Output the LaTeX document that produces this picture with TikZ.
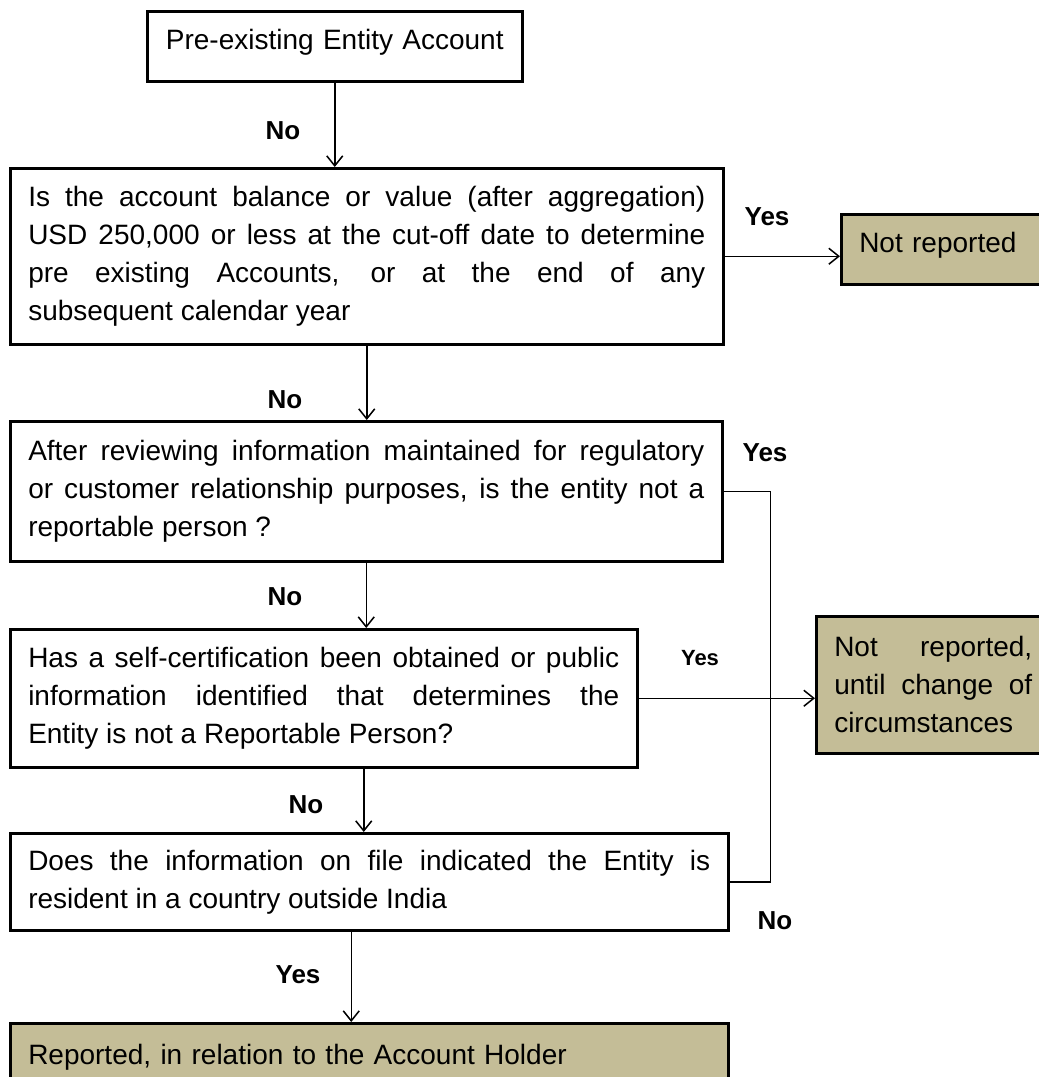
\documentclass[tikz,border=0pt]{standalone}
\usepackage{fontspec}
\setmainfont{Liberation Sans}
\usetikzlibrary{arrows.meta}
\definecolor{khaki}{RGB}{196,189,151}
\tikzset{
  qbox/.style={draw, line width=2.5pt, anchor=north west, inner xsep=18pt, inner ysep=0pt, align=justify, font=\fontsize{28}{38}\selectfont},
  endbox/.style={qbox, fill=khaki, align=left},
  lbl/.style={font=\bfseries\fontsize{26}{30}\selectfont},
  arr/.style={line width=1.5pt, -{Straight Barb[length=10pt,width=16pt]}}
}
\begin{document}
\begin{tikzpicture}[x=1pt,y=-1pt]
    \useasboundingbox (0,0) rectangle (1039,1077);

    % question boxes
    \node[qbox, align=center, text width=339pt, text height=38pt, text depth=32pt] (start) at (146,10) {Pre-existing Entity Account};
    \node[qbox, text width=677pt, minimum height=176pt] (bal) at (9,167) {Is the account balance or value (after aggregation)\linebreak USD 250,000 or less at the cut-off date to determine\linebreak pre existing Accounts, or at the end of any\linebreak subsequent calendar year};
    \node[qbox, text width=676pt, minimum height=140pt] (review) at (9,420) {After reviewing information maintained for regulatory\linebreak or customer relationship purposes, is the entity not a\linebreak reportable person ?};
    \node[qbox, text width=591pt, minimum height=138pt] (selfcert) at (9,628) {Has a self-certification been obtained or public\linebreak information identified that determines the\linebreak Entity is not a Reportable Person?};
    \node[qbox, text width=682pt, minimum height=97pt] (resident) at (9,832) {Does the information on file indicated the Entity is\linebreak resident in a country outside India};

    % outcomes
    \node[endbox, text width=200pt, text height=38pt, text depth=32pt] (notrep) at (840,213) {Not reported};
    \node[endbox, align=justify, text width=198pt, minimum height=137pt] (notrepcirc) at (815,615) {Not reported,\linebreak until change of\linebreak circumstances};
    \node[endbox, text width=682pt, text height=41pt, text depth=30pt] (reported) at (9,1022) {Reported, in relation to the Account Holder};

    % labels
    \node[lbl] (no1) at (283,131) {No};
    \node[lbl] (yes1) at (767,217) {Yes};
    \node[lbl] (no2) at (285,400) {No};
    \node[lbl] (yes2) at (765,453) {Yes};
    \node[lbl] (no3) at (285,597) {No};
    \node[lbl, font=\bfseries\fontsize{22}{26}\selectfont] (yes3) at (700,658) {Yes};
    \node[lbl] (no4) at (306,805) {No};
    \node[lbl] (no5) at (775,921) {No};
    \node[lbl] (yes4) at (298,975) {Yes};

    \draw[arr] (start.south) -- (start.south |- bal.north);
    \draw[arr] (bal.east) -- (bal.east -| notrep.west);
    \draw[arr] (bal.south) -- (bal.south |- review.north);
    \draw[line width=1.5pt] (review.east) -- ++(47,0) |- (resident.east);
    \draw[arr] (review.south) -- (review.south |- selfcert.north);
    \draw[arr] (selfcert.east) -- (selfcert.east -| notrepcirc.west);
    \draw[arr] ([xshift=40pt]selfcert.south) -- ([xshift=40pt]selfcert.south |- resident.north);
    \draw[arr] ([xshift=-18pt]resident.south) -- ([xshift=-18pt]resident.south |- reported.north);
\end{tikzpicture}
\end{document}
